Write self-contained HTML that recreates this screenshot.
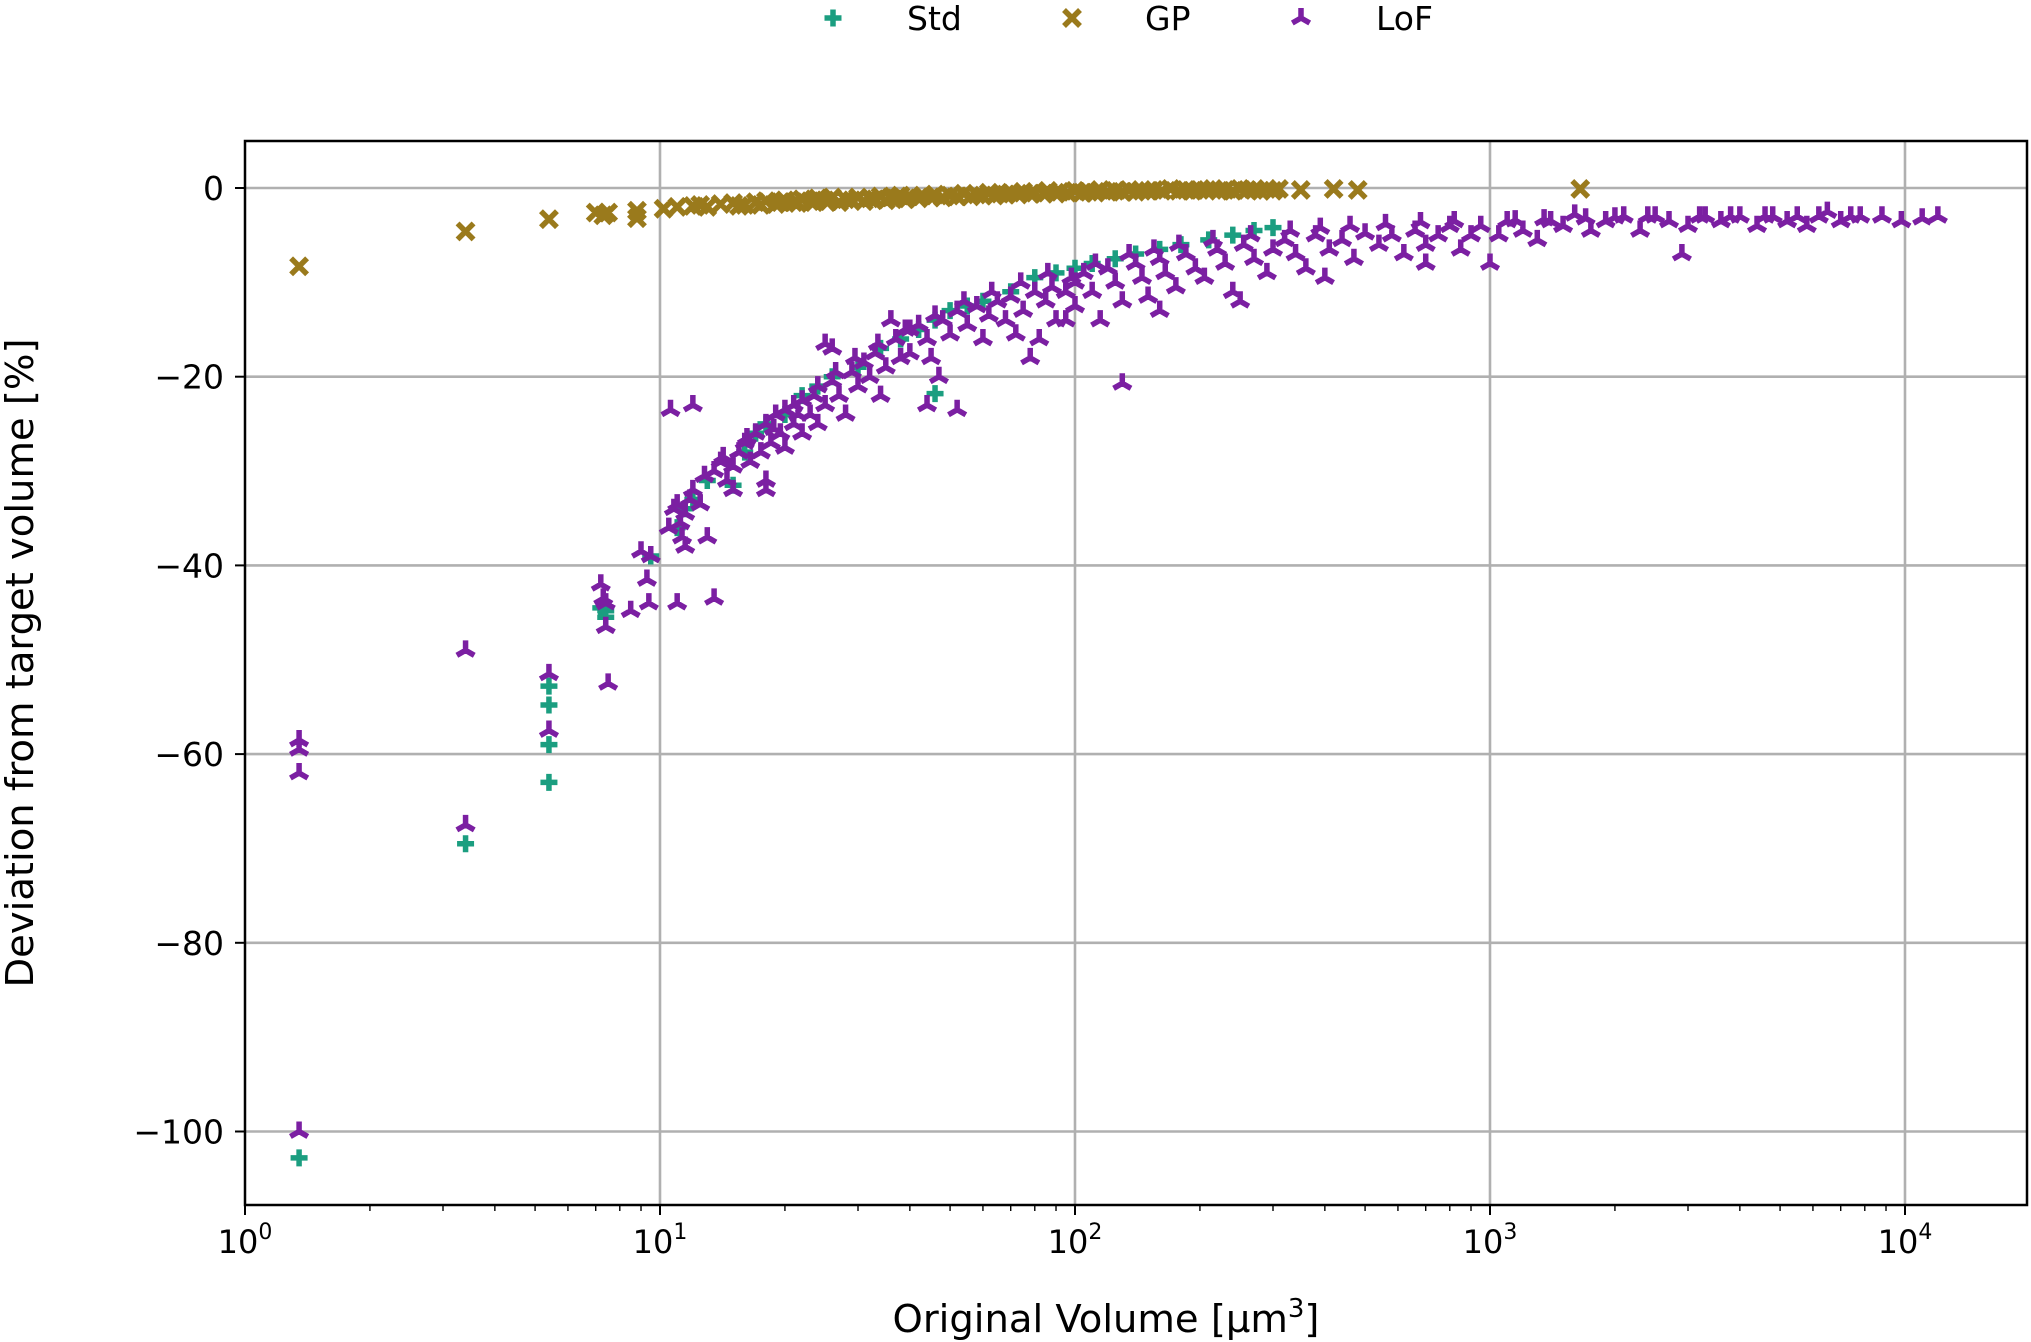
<!DOCTYPE html>
<html><head><meta charset="utf-8"><style>
html,body{margin:0;padding:0;background:#fff;}
svg{display:block;font-family:"DejaVu Sans","Liberation Sans",sans-serif;}
</style></head><body>
<svg id="chart" width="2031" height="1342" viewBox="0 0 2031 1342" xmlns="http://www.w3.org/2000/svg">
<rect width="2031" height="1342" fill="#fff"/>
<g id="grid"></g>
<g id="marks"></g>
<g id="axes"></g>
<g id="legend"></g>
<text x="0" y="0" transform="translate(33,663) rotate(-90)" text-anchor="middle" font-size="38.5">Deviation from target volume [%]</text>
<text x="1106" y="1332" text-anchor="middle" font-size="38.5">Original Volume [μm<tspan font-size="26" dy="-15">3</tspan><tspan dy="15">]</tspan></text>
</svg>
<script>
const xTicks=[1,10,100,1000,10000];
const xTickExps=["0","1","2","3","4"];
const yTicks=[0,-20,-40,-60,-80,-100];
const yTickLabels=["0","\u221220","\u221240","\u221260","\u221280","\u2212100"];
const seriesNames=["Std","GP","LoF"];

const gpX=[1.35,3.4,5.4,7.0,7.3,7.5,8.8,8.8,10.2,11,12,12.5,14,15,16,17,18,19,20,21,22,23,24,25,26,28,30,32,34,36,38,40,43,46,50,54,58,62,66,70,75,80,86,92,100,108,115,125,135,145,155,170,185,200,215,230,250,270,290,310,350,420,480,1650,
13,15.5,17.5,19.5,21.5,23.5,25.5,27,29,31,33,35,37,39,42,45,48,52,56,60,64,68,73,78,84,90,96,104,112,120,130,140,150,162,178,192,208,222,240,260,280,300];
const gpY=[-8.3,-4.6,-3.3,-2.6,-2.9,-2.6,-2.4,-3.2,-2.2,-2.0,-1.9,-1.8,-1.7,-1.6,-1.8,-1.5,-1.4,-1.7,-1.3,-1.5,-1.2,-1.4,-1.1,-1.3,-1.0,-1.2,-1.0,-1.1,-0.9,-1.0,-0.8,-0.9,-0.8,-0.7,-0.8,-0.6,-0.7,-0.5,-0.6,-0.5,-0.4,-0.5,-0.3,-0.4,-0.3,-0.4,-0.2,-0.3,-0.2,-0.3,-0.2,-0.1,-0.2,-0.2,-0.1,-0.2,-0.1,-0.2,-0.1,-0.1,-0.2,-0.1,-0.2,-0.1,
-2.0,-1.9,-1.8,-1.5,-1.6,-1.5,-1.4,-1.5,-1.3,-1.4,-1.2,-1.3,-1.1,-1.2,-1.1,-1.0,-1.0,-0.9,-0.9,-0.8,-0.8,-0.7,-0.7,-0.6,-0.6,-0.6,-0.5,-0.5,-0.5,-0.4,-0.4,-0.4,-0.3,-0.3,-0.3,-0.3,-0.2,-0.3,-0.3,-0.2,-0.3,-0.3];

const stdX=[1.35,3.4,5.4,5.4,5.4,5.4,7.2,7.4,7.4,9.5,11,11.5,12,13,15,16,17,18,20,22,24,26,30,34,38,42,46,46,50,55,60,70,80,90,100,110,125,140,160,180,210,240,270,300];
const stdY=[-102.8,-69.5,-52.8,-54.8,-59,-63,-44.5,-44.8,-45.5,-39,-36,-34,-33,-31,-31.5,-28,-26,-25,-24,-22,-21,-20,-19,-17,-16,-15,-21.8,-14,-13,-12.5,-12,-11,-9.5,-9,-8.5,-8,-7.5,-7,-6.5,-6,-5.5,-5,-4.5,-4.2];

const lofX=[1.35,1.35,1.35,1.35,3.4,3.4,5.4,5.4,7.2,7.3,7.4,7.4,7.5,8.5,9.0,9.3,9.4,9.5,10.6,11.0,11.5,12,13,13.5,15,18,18,25,26,36,44,47,52,78,95,130,160,250,400,700,1000,2900,12000,
10.5,10.8,11,11.2,11.3,11.5,11.8,12,12.5,12.8,
13.5,14,14.5,15,15.5,16,16.5,17,17.5,18,18.5,19,19.5,20,20,21,21,
22,22,23,24,24,25,26,27,28,29,30,31,32,33,34,35,
37,38,40,40,42,44,45,48,50,52,55,58,60,62,
65,68,70,72,75,80,82,85,88,90,95,98,100,100,
105,110,115,120,125,130,140,145,150,160,165,175,185,195,205,220,230,240,255,270,290,300,
320,340,360,380,410,440,470,500,540,580,620,660,700,750,800,850,900,950,
1050,1100,1200,1300,1400,1500,1600,1750,1900,2100,2300,2500,2700,3000,3300,3600,4000,4400,4800,5200,5800,6500,7000,7800,9800,11000,
14.2,16.2,18.8,21.5,23.5,26.5,29.5,33.5,39,46,54,63,74,86,112,135,155,178,215,265,330,390,460,560,680,820,1150,1350,1700,2000,2400,3200,3800,4600,5500,6200,7400,8800];
const lofY=[-58.5,-59.5,-62,-100,-49,-67.5,-51.5,-57.5,-42,-43.5,-44,-46.5,-52.5,-44.8,-38.5,-41.5,-44,-39,-23.5,-44,-38,-23,-37,-43.5,-32,-32,-31,-16.5,-17,-14,-23,-20,-23.5,-18,-14,-20.7,-13,-12,-9.5,-8,-8,-7,-3,
-36,-34,-33.5,-35.5,-37,-34.5,-33,-32,-33.5,-30.5,
-30,-29,-31,-29.5,-28,-27,-29,-26,-28,-25,-27,-24,-26,-23.5,-27.5,-25,-23,
-22.5,-26,-24,-21,-25,-23,-20.5,-22,-24,-19.5,-21,-18.5,-20,-17.5,-22,-19,
-16,-18,-15,-17.5,-14.5,-16,-18,-14,-15.5,-13,-14.5,-12.5,-16,-13.5,
-12,-14,-11.5,-15.5,-13,-11,-16,-12,-10.5,-14,-11,-9.5,-12.5,-10,
-9,-11,-14,-8.5,-10,-12,-8,-9.5,-11.5,-7.5,-9,-10.5,-7,-8.5,-9.5,-6.5,-8,-11,-6,-7.5,-9,-6.5,
-5.5,-7,-8.5,-5,-6.5,-5.5,-7.5,-4.8,-6,-5,-7,-4.5,-6,-5,-4,-6.5,-5,-4,
-5,-3.5,-4.5,-5.5,-3.5,-4,-2.8,-4.5,-3.5,-3,-4.5,-3,-3.5,-4,-3,-3.5,-3,-4,-3,-3.5,-4,-2.5,-3.5,-3,-3.5,-3.2,
-28.5,-26.5,-25.5,-24,-22,-19.5,-18,-16.5,-15,-13.5,-12,-11,-10,-9,-8,-7,-6.5,-6,-5.5,-5,-4.5,-4.2,-4,-3.8,-3.6,-3.5,-3.4,-3.3,-3.2,-3.1,-3.0,-3.0,-3.0,-3.0,-3.0,-3.0,-3.0,-3.0];

const L=245,R=2027,T=141,B=1205;
const decade=415, y0=188, pxPerUnit=9.435;
function sx(v){return L+Math.log10(v)*decade;}
function sy(v){return y0-v*pxPerUnit;}
const NS="http://www.w3.org/2000/svg";
function mk(tag,attrs,parent){const e=document.createElementNS(NS,tag);for(const k in attrs)e.setAttribute(k,attrs[k]);parent.appendChild(e);return e;}
const grid=document.getElementById('grid'),marks=document.getElementById('marks'),axes=document.getElementById('axes'),legend=document.getElementById('legend');

xTicks.forEach((t,i)=>{
  const x=sx(t);
  if(i>0){const g=mk('line',{x1:x,x2:x,y1:T,y2:B,stroke:'#b0b0b0','stroke-width':2.6},grid);
  
  }
  const tk=mk('line',{x1:x,x2:x,y1:B,y2:B+10,stroke:'#000','stroke-width':2},axes);
  
  
  const lb=mk('text',{x:x,y:1253,'text-anchor':'middle','font-size':32},axes);
  
  
  lb.innerHTML='10<tspan font-size="22" dy="-14">'+xTickExps[i]+'</tspan>';
});
for(let d=0;d<5;d++){for(let m=2;m<=9;m++){const v=Math.pow(10,d)*m;const x=sx(v);if(x>R)continue;
  const mt=mk('line',{x1:x,x2:x,y1:B,y2:B+6,stroke:'#000','stroke-width':1.4},axes);
  
  }}
yTicks.forEach((t,i)=>{
  const y=sy(t);
  const g=mk('line',{x1:L,x2:R,y1:y,y2:y,stroke:'#b0b0b0','stroke-width':2.6},grid);
  
  
  const tk=mk('line',{x1:L-10,x2:L,y1:y,y2:y,stroke:'#000','stroke-width':2},axes);
  
  
  const lb=mk('text',{x:224,y:y+12,'text-anchor':'end','font-size':33},axes);
  
  
  lb.textContent=yTickLabels[i];
});
const frame=mk('rect',{x:L,y:T,width:R-L,height:B-T,fill:'none',stroke:'#000','stroke-width':2.5},axes);



const C={Std:'#1b9e80',GP:'#9a7a1c',LoF:'#7b1fa2'};
function plusPath(x,y){const s=8.5;return `M${x-s},${y}H${x+s}M${x},${y-s}V${y+s}`;}
function xPath(x,y){const s=8;return `M${x-s},${y-s}L${x+s},${y+s}M${x-s},${y+s}L${x+s},${y-s}`;}
function triPath(x,y){const s=10;return `M${x},${y}V${y-s}M${x},${y}L${x-s*0.87},${y+s*0.5}M${x},${y}L${x+s*0.87},${y+s*0.5}`;}
function draw(xs,ys,fn,col,w,name){
  let d='';for(let i=0;i<xs.length;i++)d+=fn(sx(xs[i]),sy(ys[i]));
  const p=mk('path',{d:d,stroke:col,'stroke-width':w,fill:'none'},marks);
  
  
}
draw(gpX,gpY,xPath,C.GP,5.5,'gp-points');
draw(stdX,stdY,plusPath,C.Std,5.5,'std-points');
draw(lofX,lofY,triPath,C.LoF,5.5,'lof-points');

const legX=[833,1072,1301],txtX=[907,1145,1376],fns=[plusPath,xPath,triPath];
seriesNames.forEach((n,i)=>{
  const p=mk('path',{d:fns[i](legX[i],18),stroke:C[n],'stroke-width':5.5,fill:'none'},legend);
  
  
  const t=mk('text',{x:txtX[i],y:30,'font-size':33},legend);
  
  
  t.textContent=n;
});
</script>
</body></html>
